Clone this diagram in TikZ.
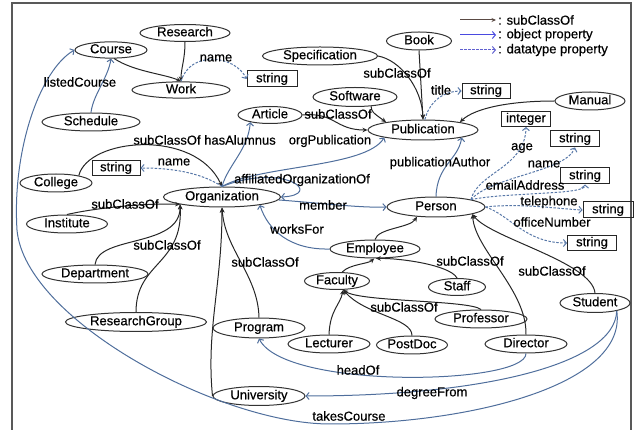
\documentclass[tikz,border=0pt]{standalone}
\usepackage{fontspec}
\setmainfont{Liberation Sans}[FakeBold=0.5]
\usetikzlibrary{arrows.meta,shapes.geometric}
\definecolor{obj}{HTML}{4F6E9C}
\definecolor{dtp}{HTML}{5878A8}
\definecolor{sub}{HTML}{262626}
\definecolor{legsub}{HTML}{5A4A44}
\definecolor{legobj}{HTML}{4A4AE0}
\definecolor{legdtp}{HTML}{6060D0}
\begin{document}
\begin{tikzpicture}[x=1pt,y=-1pt,
  font=\fontsize{13}{15}\selectfont,
  cls/.style={ellipse, draw=black!80, line width=1pt, inner sep=0pt, text height=9pt, text depth=2.5pt},
  lit/.style={rectangle, draw=black!85, line width=1pt, inner sep=0pt, text height=9pt, text depth=2.5pt},
  subc/.style={draw=sub, line width=1pt, -{Stealth[length=5pt,width=4.5pt]}},
  objp/.style={draw=obj, line width=1pt, -{Straight Barb[length=3pt,width=7pt]}},
  dtpp/.style={draw=dtp, line width=1pt, dash pattern=on 2.5pt off 1.5pt, -{Straight Barb[length=3pt,width=7pt]}},
  lab/.style={inner sep=0pt}]
\useasboundingbox (0,0) rectangle (635,430);
\draw[draw=black!65, line width=1.6pt] (12,440) -- (12,3) -- (631,3) -- (631,440);

% classes
\node[cls,minimum width=72,minimum height=16] (Course) at (111,50) {Course};
\node[cls,minimum width=90,minimum height=17] (Research) at (185,33) {Research};
\node[cls,minimum width=98,minimum height=16] (Work) at (181,90) {Work};
\node[cls,minimum width=98,minimum height=18] (Schedule) at (91,122) {Schedule};
\node[cls,minimum width=115,minimum height=18] (Specification) at (320,56) {Specification};
\node[cls,minimum width=65,minimum height=18] (Book) at (419,41) {Book};
\node[cls,minimum width=84,minimum height=19] (Software) at (355,97) {Software};
\node[cls,minimum width=110,minimum height=20] (Publication) at (423,130) {Publication};
\node[cls,minimum width=70,minimum height=18] (Manual) at (590,101) {Manual};
\node[cls,minimum width=64,minimum height=17] (Article) at (270,115) {Article};
\node[cls,minimum width=117,minimum height=20] (Organization) at (222,197) {Organization};
\node[cls,minimum width=98,minimum height=20] (Person) at (436,207) {Person};
\node[cls,minimum width=72,minimum height=18] (College) at (56,183) {College};
\node[cls,minimum width=81,minimum height=18] (Institute) at (67,224) {Institute};
\node[cls,minimum width=106,minimum height=18] (Department) at (95,274) {Department};
\node[cls,minimum width=141,minimum height=19] (ResearchGroup) at (136,322) {ResearchGroup};
\node[cls,minimum width=92,minimum height=20] (Program) at (259,328) {Program};
\node[cls,minimum width=92,minimum height=19] (University) at (259,396) {University};
\node[cls,minimum width=90,minimum height=18] (Employee) at (375,249) {Employee};
\node[cls,minimum width=65,minimum height=17] (Faculty) at (337,281) {Faculty};
\node[cls,minimum width=57,minimum height=17] (Staff) at (457,287) {Staff};
\node[cls,minimum width=92,minimum height=18] (Professor) at (481,319) {Professor};
\node[cls,minimum width=82,minimum height=18] (Director) at (526,344) {Director};
\node[cls,minimum width=70,minimum height=19] (Student) at (595,303) {Student};
\node[cls,minimum width=82,minimum height=18] (Lecturer) at (329,344) {Lecturer};
\node[cls,minimum width=71,minimum height=18] (PostDoc) at (412,345) {PostDoc};

% literals
\node[lit,minimum width=50,minimum height=16] (s1) at (272,79) {string};
\node[lit,minimum width=48,minimum height=15] (s2) at (116,168) {string};
\node[lit,minimum width=48,minimum height=15] (s3) at (486,91) {string};
\node[lit,minimum width=49,minimum height=15] (s4) at (526,119) {integer};
\node[lit,minimum width=49,minimum height=16] (s5) at (575,139) {string};
\node[lit,minimum width=49,minimum height=16] (s6) at (585,176) {string};
\node[lit,minimum width=50,minimum height=16] (s7) at (608,210) {string};
\node[lit,minimum width=49,minimum height=15] (s8) at (592,243) {string};

% subClassOf edges
\draw[subc] (Research.south) .. controls (185,60) and (181,68) .. (Work.north);
\draw[subc] (Course.-70) .. controls (135,72) and (165,74) .. (Work.north);
\draw[subc] (Specification.east) .. controls (400,60) and (422,88) .. (Publication.north);
\draw[subc] (Book.south) -- (Publication.north);
\draw[subc] (Software.-30) .. controls (372,112) .. (Publication.168);
\draw[subc] (Article.east) .. controls (335,112) and (335,130) .. (Publication.west);
\draw[subc] (Manual.west) .. controls (510,101) and (475,108) .. (Publication.12);
\draw[subc] (College.18) .. controls (88,138) and (195,128) .. (Organization.north);
\draw[subc] (Institute.north) .. controls (100,207) and (150,203) .. (Organization.190);
\draw[subc] (Department.north) .. controls (98,235) and (180,248) .. (Organization.190);
\draw[subc] (ResearchGroup.north) .. controls (136,262) and (183,265) .. (Organization.190);
\draw[subc] (University.west) .. controls (206,330) and (222,285) .. (Organization.south);
\draw[subc] (Program.north) .. controls (258,275) and (225,250) .. (Organization.south);
\draw[subc] (Employee.north) .. controls (378,228) and (410,228) .. (Person.207);
\draw[subc] (Faculty.60) .. controls (350,264) and (368,264) .. (Employee.265);
\draw[subc] (Staff.north) .. controls (450,265) and (400,258) .. (Employee.275);
\draw[subc] (Professor.north) .. controls (470,300) and (360,302) .. (Faculty.-55);
\draw[subc] (Lecturer.north) .. controls (330,310) and (340,305) .. (Faculty.-55);
\draw[subc] (PostDoc.north) .. controls (412,318) and (365,315) .. (Faculty.-55);
\draw[subc] (Director.north) .. controls (527,290) and (475,250) .. (Person.-11);
\draw[subc] (Student.north) .. controls (592,262) and (490,238) .. (Person.-11);

% object properties
\draw[objp] (Schedule.north) .. controls (93,95) and (108,78) .. (Course.south);
\draw[objp] (Organization.north) .. controls (228,165) and (248,150) .. (Article.200);
\draw[objp] (Organization.north) .. controls (260,165) and (365,168) .. (Publication.191);
\draw[objp] (Organization.north) .. controls (285,162) and (325,195) .. (Organization.east);
\draw[objp] (Organization.-3) .. controls (320,203) and (360,208) .. (Person.west);
\draw[objp] (Employee.west) .. controls (290,250) and (268,230) .. (Organization.-12);
\draw[objp] (Person.north) .. controls (437,165) and (458,160) .. (Publication.-11);
\draw[objp] (Director.south) .. controls (526,385) and (285,390) .. (Program.south);
\draw[objp] (Student.-20) .. controls (615,365) and (480,396) .. (University.east);
\draw[objp] (Student.-20) .. controls (628,385) and (470,424) .. (330,424)
  .. controls (220,424) and (25,320) .. (17,230)
  .. controls (12,150) and (40,70) .. (Course.west);

% datatype properties
\draw[dtpp] (Work.north) .. controls (190,50) and (235,55) .. (s1.west);
\draw[dtpp] (Publication.80) .. controls (430,100) and (445,91) .. (s3.west);
\draw[dtpp] (Organization.north) .. controls (200,172) and (170,168) .. (s2.east);
\draw[dtpp] (Person.12) .. controls (478,172) and (525,168) .. (s4.south);
\draw[dtpp] (Person.12) .. controls (492,176) and (565,172) .. (s5.south);
\draw[dtpp] (Person.12) .. controls (510,192) and (585,195) .. (s6.south);
\draw[dtpp] (Person.east) .. controls (520,203) and (560,209) .. (s7.west);
\draw[dtpp] (Person.east) .. controls (510,215) and (525,243) .. (s8.west);

% labels
\node[lab] (l1) at (216,58) {name};
\node[lab] (l2) at (80,82) {listedCourse};
\node[lab] (l3) at (397,73) {subClassOf};
\node[lab] (l4) at (441,90) {title};
\node[lab] (l5) at (338,114) {subClassOf};
\node[lab] (l6) at (167,140) {subClassOf};
\node[lab] (l7) at (240,140) {hasAlumnus};
\node[lab] (l8) at (330,141) {orgPublication};
\node[lab] (l9) at (174,162) {name};
\node[lab] (l10) at (302,180) {affiliatedOrganizationOf};
\node[lab] (l11) at (440,163) {publicationAuthor};
\node[lab] (l12) at (522,148) {age};
\node[lab] (l13) at (544,164) {name};
\node[lab] (l14) at (525,185) {emailAddress};
\node[lab] (l15) at (549,202) {telephone};
\node[lab] (l16) at (552,222) {officeNumber};
\node[lab] (l17) at (125,204) {subClassOf};
\node[lab] (l18) at (323,205) {member};
\node[lab] (l19) at (297,229) {worksFor};
\node[lab] (l20) at (167,245) {subClassOf};
\node[lab] (l21) at (265,262) {subClassOf};
\node[lab] (l22) at (470,261) {subClassOf};
\node[lab] (l23) at (552,271) {subClassOf};
\node[lab] (l24) at (404,307) {subClassOf};
\node[lab] (l25) at (358,370) {headOf};
\node[lab] (l26) at (432,393) {degreeFrom};
\node[lab] (l27) at (349,416) {takesCourse};

% legend
\coordinate (g1a) at (460,20); \coordinate (g1b) at (496,20);
\coordinate (g2a) at (460,35); \coordinate (g2b) at (496,35);
\coordinate (g3a) at (460,50); \coordinate (g3b) at (496,50);
\draw[draw=legsub, line width=1pt, -{Stealth[length=4.5pt,width=4pt]}] (g1a) -- (g1b);
\draw[draw=legobj, line width=1pt, -{Straight Barb[length=3pt,width=7pt]}] (g2a) -- (g2b);
\draw[draw=legdtp, line width=1pt, dash pattern=on 2.5pt off 1.5pt, -{Straight Barb[length=3pt,width=7pt]}] (g3a) -- (g3b);
\node[lab, anchor=west] (t1) at (498,20) {: subClassOf};
\node[lab, anchor=west] (t2) at (498,35) {: object property};
\node[lab, anchor=west] (t3) at (498,50) {: datatype property};
\end{tikzpicture}
\end{document}
